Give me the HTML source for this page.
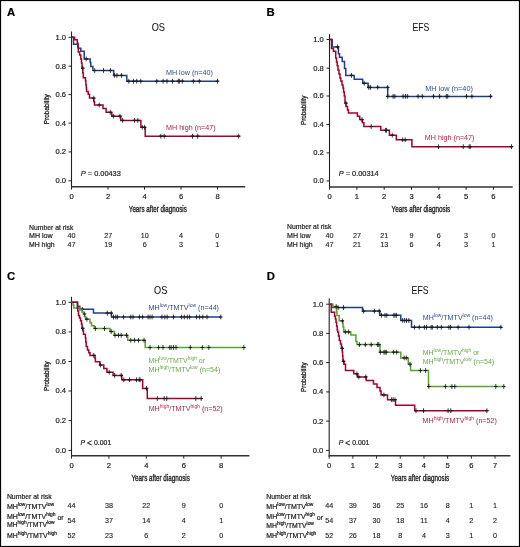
<!DOCTYPE html>
<html><head><meta charset="utf-8"><style>
html,body{margin:0;padding:0;background:#fff;}
svg{display:block;font-family:"Liberation Sans", sans-serif;will-change:transform;}
</style></head><body>
<svg width="520" height="547" viewBox="0 0 520 547">
<rect width="520" height="547" fill="#fff"/>
<text x="6.9" y="16.3" font-size="11.3" text-anchor="start" fill="#000" font-weight="bold" font-style="normal" stroke="#000" stroke-width="0.2">A</text>
<text x="151.7" y="31.0" font-size="10.2" text-anchor="start" fill="#111" font-weight="normal" font-style="normal" textLength="13.3" lengthAdjust="spacingAndGlyphs" stroke="#111" stroke-width="0.05">OS</text>
<line x1="71.5" y1="31.5" x2="71.5" y2="187.4" stroke="#222" stroke-width="1.1"/>
<line x1="71.0" y1="186.8" x2="245.2" y2="186.8" stroke="#333" stroke-width="1.4"/>
<line x1="68.5" y1="37.3" x2="71.5" y2="37.3" stroke="#222" stroke-width="1"/>
<text x="66" y="39.7" font-size="7.6" text-anchor="end" fill="#222" font-weight="normal" font-style="normal" stroke="#222" stroke-width="0.2">1.0</text>
<line x1="68.5" y1="66.2" x2="71.5" y2="66.2" stroke="#222" stroke-width="1"/>
<text x="66" y="68.6" font-size="7.6" text-anchor="end" fill="#222" font-weight="normal" font-style="normal" stroke="#222" stroke-width="0.2">0.8</text>
<line x1="68.5" y1="94.6" x2="71.5" y2="94.6" stroke="#222" stroke-width="1"/>
<text x="66" y="97.0" font-size="7.6" text-anchor="end" fill="#222" font-weight="normal" font-style="normal" stroke="#222" stroke-width="0.2">0.6</text>
<line x1="68.5" y1="123.1" x2="71.5" y2="123.1" stroke="#222" stroke-width="1"/>
<text x="66" y="125.5" font-size="7.6" text-anchor="end" fill="#222" font-weight="normal" font-style="normal" stroke="#222" stroke-width="0.2">0.4</text>
<line x1="68.5" y1="151.9" x2="71.5" y2="151.9" stroke="#222" stroke-width="1"/>
<text x="66" y="154.3" font-size="7.6" text-anchor="end" fill="#222" font-weight="normal" font-style="normal" stroke="#222" stroke-width="0.2">0.2</text>
<line x1="68.5" y1="180.8" x2="71.5" y2="180.8" stroke="#222" stroke-width="1"/>
<text x="66" y="183.2" font-size="7.6" text-anchor="end" fill="#222" font-weight="normal" font-style="normal" stroke="#222" stroke-width="0.2">0.0</text>
<line x1="71.5" y1="186.8" x2="71.5" y2="189.60000000000002" stroke="#222" stroke-width="1"/>
<text x="71.5" y="199.2" font-size="7.6" text-anchor="middle" fill="#222" font-weight="normal" font-style="normal" stroke="#222" stroke-width="0.2">0</text>
<line x1="108" y1="186.8" x2="108" y2="189.60000000000002" stroke="#222" stroke-width="1"/>
<text x="108" y="199.2" font-size="7.6" text-anchor="middle" fill="#222" font-weight="normal" font-style="normal" stroke="#222" stroke-width="0.2">2</text>
<line x1="144.5" y1="186.8" x2="144.5" y2="189.60000000000002" stroke="#222" stroke-width="1"/>
<text x="144.5" y="199.2" font-size="7.6" text-anchor="middle" fill="#222" font-weight="normal" font-style="normal" stroke="#222" stroke-width="0.2">4</text>
<line x1="181" y1="186.8" x2="181" y2="189.60000000000002" stroke="#222" stroke-width="1"/>
<text x="181" y="199.2" font-size="7.6" text-anchor="middle" fill="#222" font-weight="normal" font-style="normal" stroke="#222" stroke-width="0.2">6</text>
<line x1="217.5" y1="186.8" x2="217.5" y2="189.60000000000002" stroke="#222" stroke-width="1"/>
<text x="217.5" y="199.2" font-size="7.6" text-anchor="middle" fill="#222" font-weight="normal" font-style="normal" stroke="#222" stroke-width="0.2">8</text>
<text transform="translate(49.0,109.2) rotate(-90)" x="0" y="0" font-size="7.9" text-anchor="middle" fill="#222" stroke="#222" stroke-width="0.3" textLength="30" lengthAdjust="spacingAndGlyphs">Probability</text>
<text x="128.8" y="212.2" font-size="9" text-anchor="start" fill="#222" font-weight="normal" font-style="normal" textLength="58" lengthAdjust="spacingAndGlyphs" stroke="#222" stroke-width="0.35">Years after diagnosis</text>
<path d="M71.5,37.3H73.5V44.3H78.3V48.2H80.8V51.2H84.2V58.9H90.2V62.5H90.8V66.5H92.9V70.5H113.7V75.4H126.8V81.2H217.8" fill="none" stroke="#1f3f85" stroke-width="1.5" stroke-linejoin="miter" stroke-linecap="butt"/>
<path d="M84.40,58.9h3.6" fill="none" stroke="#1a1a1a" stroke-width="1.2"/>
<path d="M86.2,56.50v4.8" fill="none" stroke="#1a1a1a" stroke-width="0.85"/>
<path d="M92.90,70.5h3.6M101.70,70.5h3.6M108.60,70.5h3.6" fill="none" stroke="#1a1a1a" stroke-width="1.2"/>
<path d="M94.7,68.10v4.8M103.5,68.10v4.8M110.4,68.10v4.8" fill="none" stroke="#1a1a1a" stroke-width="0.85"/>
<path d="M112.80,75.4h3.6M115.10,75.4h3.6M119.70,75.4h3.6" fill="none" stroke="#1a1a1a" stroke-width="1.2"/>
<path d="M114.6,73.00v4.8M116.9,73.00v4.8M121.5,73.00v4.8" fill="none" stroke="#1a1a1a" stroke-width="0.85"/>
<path d="M127.00,81.2h3.6M131.70,81.2h3.6M134.90,81.2h3.6M139.00,81.2h3.6M155.00,81.2h3.6M161.30,81.2h3.6M165.20,81.2h3.6M170.70,81.2h3.6M176.50,81.2h3.6M177.60,81.2h3.6M180.50,81.2h3.6M191.50,81.2h3.6M197.50,81.2h3.6M215.70,81.2h3.6" fill="none" stroke="#1a1a1a" stroke-width="1.2"/>
<path d="M128.8,78.80v4.8M133.5,78.80v4.8M136.7,78.80v4.8M140.8,78.80v4.8M156.8,78.80v4.8M163.1,78.80v4.8M167,78.80v4.8M172.5,78.80v4.8M178.3,78.80v4.8M179.4,78.80v4.8M182.3,78.80v4.8M193.3,78.80v4.8M199.3,78.80v4.8M217.5,78.80v4.8" fill="none" stroke="#1a1a1a" stroke-width="0.85"/>
<path d="M71.5,37.3H74.6V39.7H77.3V43H77.8V47H78.3V52H79.6V55.1H80.8V58.9H81.5V63H82V68.1H82.8V73H83.3V77.7H85.5V81H85.9V85H86.3V88H86.6V91.5H88.2V94.2H89.5V98.1H93.8V101.5H94.5V105H103V108.5H106.1V112.3H111.8V116.2H120.8V120.4H140.9V127.3H145.2V136.2H239.6" fill="none" stroke="#a8002c" stroke-width="1.5" stroke-linejoin="miter" stroke-linecap="butt"/>
<path d="M81.00,68.1h3.6M92.00,98.1h3.6M97.40,105h3.6M108.50,112.3h3.6M111.60,116.2h3.6M118.10,116.2h3.6" fill="none" stroke="#1a1a1a" stroke-width="1.2"/>
<path d="M82.8,65.70v4.8M93.8,95.70v4.8M99.2,102.60v4.8M110.3,109.90v4.8M113.4,113.80v4.8M119.9,113.80v4.8" fill="none" stroke="#1a1a1a" stroke-width="0.85"/>
<path d="M120.80,120.4h3.6M132.70,120.4h3.6M136.00,120.4h3.6" fill="none" stroke="#1a1a1a" stroke-width="1.2"/>
<path d="M122.6,118.00v4.8M134.5,118.00v4.8M137.8,118.00v4.8" fill="none" stroke="#1a1a1a" stroke-width="0.85"/>
<path d="M140.50,127.3h3.6M142.80,127.3h3.6" fill="none" stroke="#1a1a1a" stroke-width="1.2"/>
<path d="M142.3,124.90v4.8M144.6,124.90v4.8" fill="none" stroke="#1a1a1a" stroke-width="0.85"/>
<path d="M159.00,136.2h3.6M162.40,136.2h3.6M190.70,136.2h3.6M195.90,136.2h3.6M236.90,136.2h3.6" fill="none" stroke="#1a1a1a" stroke-width="1.2"/>
<path d="M160.8,133.80v4.8M164.2,133.80v4.8M192.5,133.80v4.8M197.7,133.80v4.8M238.7,133.80v4.8" fill="none" stroke="#1a1a1a" stroke-width="0.85"/>
<text x="165.9" y="74.8" font-size="7.6" text-anchor="start" fill="#2c4c8c" font-weight="normal" font-style="normal" textLength="47" lengthAdjust="spacingAndGlyphs">MH low (n=40)</text>
<text x="166" y="130" font-size="7.6" text-anchor="start" fill="#b01c44" font-weight="normal" font-style="normal" textLength="49.6" lengthAdjust="spacingAndGlyphs">MH high (n=47)</text>
<text x="80.8" y="176.3" font-size="7.4" fill="#222" stroke="#222" stroke-width="0.2" textLength="40" lengthAdjust="spacingAndGlyphs"><tspan font-style="italic">P</tspan> = 0.00433</text>
<text x="29" y="229.5" font-size="7.2" text-anchor="start" fill="#222" font-weight="normal" font-style="normal" textLength="44.4" lengthAdjust="spacingAndGlyphs" stroke="#222" stroke-width="0.2">Number at risk</text>
<text x="29" y="238.4" font-size="7.2" text-anchor="start" fill="#222" font-weight="normal" font-style="normal" textLength="23.7" lengthAdjust="spacingAndGlyphs" stroke="#222" stroke-width="0.2">MH low</text>
<text x="29" y="246.6" font-size="7.2" text-anchor="start" fill="#222" font-weight="normal" font-style="normal" textLength="25.6" lengthAdjust="spacingAndGlyphs" stroke="#222" stroke-width="0.2">MH high</text>
<text x="71.5" y="238.3" font-size="7.2" text-anchor="middle" fill="#222" font-weight="normal" font-style="normal" stroke="#222" stroke-width="0.12">40</text>
<text x="71.5" y="246.9" font-size="7.2" text-anchor="middle" fill="#222" font-weight="normal" font-style="normal" stroke="#222" stroke-width="0.12">47</text>
<text x="108.3" y="238.3" font-size="7.2" text-anchor="middle" fill="#222" font-weight="normal" font-style="normal" stroke="#222" stroke-width="0.12">27</text>
<text x="108.3" y="246.9" font-size="7.2" text-anchor="middle" fill="#222" font-weight="normal" font-style="normal" stroke="#222" stroke-width="0.12">19</text>
<text x="144.7" y="238.3" font-size="7.2" text-anchor="middle" fill="#222" font-weight="normal" font-style="normal" stroke="#222" stroke-width="0.12">10</text>
<text x="144.7" y="246.9" font-size="7.2" text-anchor="middle" fill="#222" font-weight="normal" font-style="normal" stroke="#222" stroke-width="0.12">6</text>
<text x="181.1" y="238.3" font-size="7.2" text-anchor="middle" fill="#222" font-weight="normal" font-style="normal" stroke="#222" stroke-width="0.12">4</text>
<text x="181.1" y="246.9" font-size="7.2" text-anchor="middle" fill="#222" font-weight="normal" font-style="normal" stroke="#222" stroke-width="0.12">3</text>
<text x="217.3" y="238.3" font-size="7.2" text-anchor="middle" fill="#222" font-weight="normal" font-style="normal" stroke="#222" stroke-width="0.12">0</text>
<text x="217.3" y="246.9" font-size="7.2" text-anchor="middle" fill="#222" font-weight="normal" font-style="normal" stroke="#222" stroke-width="0.12">1</text>
<text x="266.5" y="16.2" font-size="11.3" text-anchor="start" fill="#000" font-weight="bold" font-style="normal" stroke="#000" stroke-width="0.2">B</text>
<text x="412.6" y="30.9" font-size="10.2" text-anchor="start" fill="#111" font-weight="normal" font-style="normal" textLength="16.8" lengthAdjust="spacingAndGlyphs" stroke="#111" stroke-width="0.05">EFS</text>
<line x1="329.5" y1="34.1" x2="329.5" y2="187.6" stroke="#222" stroke-width="1.1"/>
<line x1="329.0" y1="187.0" x2="512.7" y2="187.0" stroke="#333" stroke-width="1.4"/>
<line x1="326.5" y1="39.5" x2="329.5" y2="39.5" stroke="#222" stroke-width="1"/>
<text x="323.8" y="41.9" font-size="7.6" text-anchor="end" fill="#222" font-weight="normal" font-style="normal" stroke="#222" stroke-width="0.2">1.0</text>
<line x1="326.5" y1="68.2" x2="329.5" y2="68.2" stroke="#222" stroke-width="1"/>
<text x="323.8" y="70.6" font-size="7.6" text-anchor="end" fill="#222" font-weight="normal" font-style="normal" stroke="#222" stroke-width="0.2">0.8</text>
<line x1="326.5" y1="96.0" x2="329.5" y2="96.0" stroke="#222" stroke-width="1"/>
<text x="323.8" y="98.4" font-size="7.6" text-anchor="end" fill="#222" font-weight="normal" font-style="normal" stroke="#222" stroke-width="0.2">0.6</text>
<line x1="326.5" y1="124.4" x2="329.5" y2="124.4" stroke="#222" stroke-width="1"/>
<text x="323.8" y="126.8" font-size="7.6" text-anchor="end" fill="#222" font-weight="normal" font-style="normal" stroke="#222" stroke-width="0.2">0.4</text>
<line x1="326.5" y1="152.9" x2="329.5" y2="152.9" stroke="#222" stroke-width="1"/>
<text x="323.8" y="155.3" font-size="7.6" text-anchor="end" fill="#222" font-weight="normal" font-style="normal" stroke="#222" stroke-width="0.2">0.2</text>
<line x1="326.5" y1="180.9" x2="329.5" y2="180.9" stroke="#222" stroke-width="1"/>
<text x="323.8" y="183.3" font-size="7.6" text-anchor="end" fill="#222" font-weight="normal" font-style="normal" stroke="#222" stroke-width="0.2">0.0</text>
<line x1="329.6" y1="187.0" x2="329.6" y2="189.8" stroke="#222" stroke-width="1"/>
<text x="329.6" y="199.4" font-size="7.6" text-anchor="middle" fill="#222" font-weight="normal" font-style="normal" stroke="#222" stroke-width="0.2">0</text>
<line x1="356.90000000000003" y1="187.0" x2="356.90000000000003" y2="189.8" stroke="#222" stroke-width="1"/>
<text x="356.90000000000003" y="199.4" font-size="7.6" text-anchor="middle" fill="#222" font-weight="normal" font-style="normal" stroke="#222" stroke-width="0.2">1</text>
<line x1="384.20000000000005" y1="187.0" x2="384.20000000000005" y2="189.8" stroke="#222" stroke-width="1"/>
<text x="384.20000000000005" y="199.4" font-size="7.6" text-anchor="middle" fill="#222" font-weight="normal" font-style="normal" stroke="#222" stroke-width="0.2">2</text>
<line x1="411.5" y1="187.0" x2="411.5" y2="189.8" stroke="#222" stroke-width="1"/>
<text x="411.5" y="199.4" font-size="7.6" text-anchor="middle" fill="#222" font-weight="normal" font-style="normal" stroke="#222" stroke-width="0.2">3</text>
<line x1="438.8" y1="187.0" x2="438.8" y2="189.8" stroke="#222" stroke-width="1"/>
<text x="438.8" y="199.4" font-size="7.6" text-anchor="middle" fill="#222" font-weight="normal" font-style="normal" stroke="#222" stroke-width="0.2">4</text>
<line x1="466.1" y1="187.0" x2="466.1" y2="189.8" stroke="#222" stroke-width="1"/>
<text x="466.1" y="199.4" font-size="7.6" text-anchor="middle" fill="#222" font-weight="normal" font-style="normal" stroke="#222" stroke-width="0.2">5</text>
<line x1="493.40000000000003" y1="187.0" x2="493.40000000000003" y2="189.8" stroke="#222" stroke-width="1"/>
<text x="493.40000000000003" y="199.4" font-size="7.6" text-anchor="middle" fill="#222" font-weight="normal" font-style="normal" stroke="#222" stroke-width="0.2">6</text>
<text transform="translate(306.4,110.3) rotate(-90)" x="0" y="0" font-size="7.9" text-anchor="middle" fill="#222" stroke="#222" stroke-width="0.3" textLength="29.6" lengthAdjust="spacingAndGlyphs">Probability</text>
<text x="391.5" y="211.7" font-size="9" text-anchor="start" fill="#222" font-weight="normal" font-style="normal" textLength="58.7" lengthAdjust="spacingAndGlyphs" stroke="#222" stroke-width="0.35">Years after diagnosis</text>
<path d="M329.5,39.5H332.2V46.9H338.4V53.8H339.5V57.3H342.2V61.5H344.5V68.6H345.8V75.4H354.2V79.2H362.7V83.3H368.1V87.4H387.7V96.4H491.5" fill="none" stroke="#1f3f85" stroke-width="1.5" stroke-linejoin="miter" stroke-linecap="butt"/>
<path d="M335.80,46.9h3.6M349.70,75.4h3.6M362.40,83.3h3.6" fill="none" stroke="#1a1a1a" stroke-width="1.2"/>
<path d="M337.6,44.50v4.8M351.5,73.00v4.8M364.2,80.90v4.8" fill="none" stroke="#1a1a1a" stroke-width="0.85"/>
<path d="M367.00,87.4h3.6M368.60,87.4h3.6M375.90,87.4h3.6M385.90,87.4h3.6" fill="none" stroke="#1a1a1a" stroke-width="1.2"/>
<path d="M368.8,85.00v4.8M370.4,85.00v4.8M377.7,85.00v4.8M387.7,85.00v4.8" fill="none" stroke="#1a1a1a" stroke-width="0.85"/>
<path d="M385.90,96.4h3.6M391.30,96.4h3.6M393.00,96.4h3.6M401.30,96.4h3.6M403.60,96.4h3.6M405.50,96.4h3.6M416.30,96.4h3.6M420.50,96.4h3.6M431.70,96.4h3.6M437.80,96.4h3.6M444.50,96.4h3.6M445.90,96.4h3.6M464.70,96.4h3.6M470.10,96.4h3.6M488.80,96.4h3.6" fill="none" stroke="#1a1a1a" stroke-width="1.2"/>
<path d="M387.7,94.00v4.8M393.1,94.00v4.8M394.8,94.00v4.8M403.1,94.00v4.8M405.4,94.00v4.8M407.3,94.00v4.8M418.1,94.00v4.8M422.3,94.00v4.8M433.5,94.00v4.8M439.6,94.00v4.8M446.3,94.00v4.8M447.7,94.00v4.8M466.5,94.00v4.8M471.9,94.00v4.8M490.6,94.00v4.8" fill="none" stroke="#1a1a1a" stroke-width="0.85"/>
<path d="M329.5,39.5H331.5V48.5H333.4V51.2H335.7V58.1H336.5V62H337.2V65.8H338V70H339V74H340V78H340.8V81H342V85H343V88H343.6V92H344.3V96H345V103.1H346V106.5H347.5V110H348.5V113.1H357.4V116.2H359.7V119.6H362.4V122.7H363.9V126.5H380.8V130.3H389.4V135.2H396.3V139.8H411.9V146.7H512.5" fill="none" stroke="#a8002c" stroke-width="1.5" stroke-linejoin="miter" stroke-linecap="butt"/>
<path d="M344.20,103.1h3.6M360.20,119.6h3.6M369.40,126.5h3.6M383.80,130.3h3.6M384.70,130.3h3.6M390.50,135.2h3.6M400.90,139.8h3.6M403.40,139.8h3.6" fill="none" stroke="#1a1a1a" stroke-width="1.2"/>
<path d="M346,100.70v4.8M362,117.20v4.8M371.2,124.10v4.8M385.6,127.90v4.8M386.5,127.90v4.8M392.3,132.80v4.8M402.7,137.40v4.8M405.2,137.40v4.8" fill="none" stroke="#1a1a1a" stroke-width="0.85"/>
<path d="M436.70,146.7h3.6M461.50,146.7h3.6M467.40,146.7h3.6M468.50,146.7h3.6M509.70,146.7h3.6" fill="none" stroke="#1a1a1a" stroke-width="1.2"/>
<path d="M438.5,144.30v4.8M463.3,144.30v4.8M469.2,144.30v4.8M470.3,144.30v4.8M511.5,144.30v4.8" fill="none" stroke="#1a1a1a" stroke-width="0.85"/>
<text x="425.2" y="91" font-size="7.6" text-anchor="start" fill="#2c4c8c" font-weight="normal" font-style="normal" textLength="47.7" lengthAdjust="spacingAndGlyphs">MH low (n=40)</text>
<text x="424.8" y="140.2" font-size="7.6" text-anchor="start" fill="#b01c44" font-weight="normal" font-style="normal" textLength="49.7" lengthAdjust="spacingAndGlyphs">MH high (n=47)</text>
<text x="338.7" y="176.4" font-size="7.4" fill="#222" stroke="#222" stroke-width="0.2" textLength="40" lengthAdjust="spacingAndGlyphs"><tspan font-style="italic">P</tspan> = 0.00314</text>
<text x="287" y="229.4" font-size="7.2" text-anchor="start" fill="#222" font-weight="normal" font-style="normal" textLength="44.3" lengthAdjust="spacingAndGlyphs" stroke="#222" stroke-width="0.2">Number at risk</text>
<text x="287" y="238.3" font-size="7.2" text-anchor="start" fill="#222" font-weight="normal" font-style="normal" textLength="23.7" lengthAdjust="spacingAndGlyphs" stroke="#222" stroke-width="0.2">MH low</text>
<text x="287" y="246.6" font-size="7.2" text-anchor="start" fill="#222" font-weight="normal" font-style="normal" textLength="25.6" lengthAdjust="spacingAndGlyphs" stroke="#222" stroke-width="0.2">MH high</text>
<text x="329.6" y="238.3" font-size="7.2" text-anchor="middle" fill="#222" font-weight="normal" font-style="normal" stroke="#222" stroke-width="0.12">40</text>
<text x="329.6" y="246.9" font-size="7.2" text-anchor="middle" fill="#222" font-weight="normal" font-style="normal" stroke="#222" stroke-width="0.12">47</text>
<text x="356.90000000000003" y="238.3" font-size="7.2" text-anchor="middle" fill="#222" font-weight="normal" font-style="normal" stroke="#222" stroke-width="0.12">27</text>
<text x="356.90000000000003" y="246.9" font-size="7.2" text-anchor="middle" fill="#222" font-weight="normal" font-style="normal" stroke="#222" stroke-width="0.12">21</text>
<text x="384.20000000000005" y="238.3" font-size="7.2" text-anchor="middle" fill="#222" font-weight="normal" font-style="normal" stroke="#222" stroke-width="0.12">21</text>
<text x="384.20000000000005" y="246.9" font-size="7.2" text-anchor="middle" fill="#222" font-weight="normal" font-style="normal" stroke="#222" stroke-width="0.12">13</text>
<text x="411.5" y="238.3" font-size="7.2" text-anchor="middle" fill="#222" font-weight="normal" font-style="normal" stroke="#222" stroke-width="0.12">9</text>
<text x="411.5" y="246.9" font-size="7.2" text-anchor="middle" fill="#222" font-weight="normal" font-style="normal" stroke="#222" stroke-width="0.12">6</text>
<text x="438.8" y="238.3" font-size="7.2" text-anchor="middle" fill="#222" font-weight="normal" font-style="normal" stroke="#222" stroke-width="0.12">6</text>
<text x="438.8" y="246.9" font-size="7.2" text-anchor="middle" fill="#222" font-weight="normal" font-style="normal" stroke="#222" stroke-width="0.12">4</text>
<text x="466.1" y="238.3" font-size="7.2" text-anchor="middle" fill="#222" font-weight="normal" font-style="normal" stroke="#222" stroke-width="0.12">3</text>
<text x="466.1" y="246.9" font-size="7.2" text-anchor="middle" fill="#222" font-weight="normal" font-style="normal" stroke="#222" stroke-width="0.12">3</text>
<text x="493.40000000000003" y="238.3" font-size="7.2" text-anchor="middle" fill="#222" font-weight="normal" font-style="normal" stroke="#222" stroke-width="0.12">0</text>
<text x="493.40000000000003" y="246.9" font-size="7.2" text-anchor="middle" fill="#222" font-weight="normal" font-style="normal" stroke="#222" stroke-width="0.12">1</text>
<text x="6.9" y="279.5" font-size="11.3" text-anchor="start" fill="#000" font-weight="bold" font-style="normal" stroke="#000" stroke-width="0.2">C</text>
<text x="154" y="293.5" font-size="10.2" text-anchor="start" fill="#111" font-weight="normal" font-style="normal" textLength="13.3" lengthAdjust="spacingAndGlyphs" stroke="#111" stroke-width="0.05">OS</text>
<line x1="71.5" y1="296.8" x2="71.5" y2="456.40000000000003" stroke="#222" stroke-width="1.1"/>
<line x1="71.0" y1="455.8" x2="249.4" y2="455.8" stroke="#333" stroke-width="1.4"/>
<line x1="68.5" y1="302.3" x2="71.5" y2="302.3" stroke="#222" stroke-width="1"/>
<text x="66" y="304.7" font-size="7.6" text-anchor="end" fill="#222" font-weight="normal" font-style="normal" stroke="#222" stroke-width="0.2">1.0</text>
<line x1="68.5" y1="331.9" x2="71.5" y2="331.9" stroke="#222" stroke-width="1"/>
<text x="66" y="334.3" font-size="7.6" text-anchor="end" fill="#222" font-weight="normal" font-style="normal" stroke="#222" stroke-width="0.2">0.8</text>
<line x1="68.5" y1="361.5" x2="71.5" y2="361.5" stroke="#222" stroke-width="1"/>
<text x="66" y="363.9" font-size="7.6" text-anchor="end" fill="#222" font-weight="normal" font-style="normal" stroke="#222" stroke-width="0.2">0.6</text>
<line x1="68.5" y1="391.0" x2="71.5" y2="391.0" stroke="#222" stroke-width="1"/>
<text x="66" y="393.4" font-size="7.6" text-anchor="end" fill="#222" font-weight="normal" font-style="normal" stroke="#222" stroke-width="0.2">0.4</text>
<line x1="68.5" y1="420.6" x2="71.5" y2="420.6" stroke="#222" stroke-width="1"/>
<text x="66" y="423.0" font-size="7.6" text-anchor="end" fill="#222" font-weight="normal" font-style="normal" stroke="#222" stroke-width="0.2">0.2</text>
<line x1="68.5" y1="450.4" x2="71.5" y2="450.4" stroke="#222" stroke-width="1"/>
<text x="66" y="452.8" font-size="7.6" text-anchor="end" fill="#222" font-weight="normal" font-style="normal" stroke="#222" stroke-width="0.2">0.0</text>
<line x1="71.5" y1="455.8" x2="71.5" y2="458.6" stroke="#222" stroke-width="1"/>
<text x="71.5" y="468.2" font-size="7.6" text-anchor="middle" fill="#222" font-weight="normal" font-style="normal" stroke="#222" stroke-width="0.2">0</text>
<line x1="108.92" y1="455.8" x2="108.92" y2="458.6" stroke="#222" stroke-width="1"/>
<text x="108.92" y="468.2" font-size="7.6" text-anchor="middle" fill="#222" font-weight="normal" font-style="normal" stroke="#222" stroke-width="0.2">2</text>
<line x1="146.34" y1="455.8" x2="146.34" y2="458.6" stroke="#222" stroke-width="1"/>
<text x="146.34" y="468.2" font-size="7.6" text-anchor="middle" fill="#222" font-weight="normal" font-style="normal" stroke="#222" stroke-width="0.2">4</text>
<line x1="183.76" y1="455.8" x2="183.76" y2="458.6" stroke="#222" stroke-width="1"/>
<text x="183.76" y="468.2" font-size="7.6" text-anchor="middle" fill="#222" font-weight="normal" font-style="normal" stroke="#222" stroke-width="0.2">6</text>
<line x1="221.18" y1="455.8" x2="221.18" y2="458.6" stroke="#222" stroke-width="1"/>
<text x="221.18" y="468.2" font-size="7.6" text-anchor="middle" fill="#222" font-weight="normal" font-style="normal" stroke="#222" stroke-width="0.2">8</text>
<text transform="translate(49.0,376.1) rotate(-90)" x="0" y="0" font-size="7.9" text-anchor="middle" fill="#222" stroke="#222" stroke-width="0.3" textLength="29.7" lengthAdjust="spacingAndGlyphs">Probability</text>
<text x="131.5" y="480.6" font-size="9" text-anchor="start" fill="#222" font-weight="normal" font-style="normal" textLength="58.3" lengthAdjust="spacingAndGlyphs" stroke="#222" stroke-width="0.35">Years after diagnosis</text>
<path d="M71.5,302.3H77.7V306.2H79.8V309.2H93.5V313.1H111.5V317H221.3" fill="none" stroke="#1f3f85" stroke-width="1.5" stroke-linejoin="miter" stroke-linecap="butt"/>
<path d="M80.50,309.2h3.6" fill="none" stroke="#1a1a1a" stroke-width="1.2"/>
<path d="M82.3,306.80v4.8" fill="none" stroke="#1a1a1a" stroke-width="0.85"/>
<path d="M105.50,313.1h3.6M109.40,313.1h3.6" fill="none" stroke="#1a1a1a" stroke-width="1.2"/>
<path d="M107.3,310.70v4.8M111.2,310.70v4.8" fill="none" stroke="#1a1a1a" stroke-width="0.85"/>
<path d="M111.70,317h3.6M114.00,317h3.6M115.60,317h3.6M121.80,317h3.6M129.00,317h3.6M131.20,317h3.6M137.60,317h3.6M140.80,317h3.6M146.30,317h3.6M148.20,317h3.6M150.30,317h3.6M160.10,317h3.6M163.10,317h3.6M165.40,317h3.6M171.70,317h3.6M179.80,317h3.6M182.50,317h3.6M185.50,317h3.6M187.80,317h3.6M194.80,317h3.6M197.80,317h3.6M201.00,317h3.6M205.20,317h3.6M219.00,317h3.6" fill="none" stroke="#1a1a1a" stroke-width="1.2"/>
<path d="M113.5,314.60v4.8M115.8,314.60v4.8M117.4,314.60v4.8M123.6,314.60v4.8M130.8,314.60v4.8M133.0,314.60v4.8M139.4,314.60v4.8M142.6,314.60v4.8M148.1,314.60v4.8M150,314.60v4.8M152.1,314.60v4.8M161.9,314.60v4.8M164.9,314.60v4.8M167.2,314.60v4.8M173.5,314.60v4.8M181.6,314.60v4.8M184.3,314.60v4.8M187.3,314.60v4.8M189.6,314.60v4.8M196.6,314.60v4.8M199.6,314.60v4.8M202.8,314.60v4.8M207,314.60v4.8M220.8,314.60v4.8" fill="none" stroke="#1a1a1a" stroke-width="0.85"/>
<path d="M71.5,302.3H73.1V305H73.8V308.1H80V310H82V312H83.3V314H84.5V316.5H85.5V319.2H90V322.7H91.5V325.8H94.2V328.5H110V331.5H114.4V335.3H127.7V340.3H145.2V347.5H244.4" fill="none" stroke="#5aa232" stroke-width="1.5" stroke-linejoin="miter" stroke-linecap="butt"/>
<path d="M82.80,314h3.6M85.10,319.2h3.6" fill="none" stroke="#1a1a1a" stroke-width="1.2"/>
<path d="M84.6,311.60v4.8M86.9,316.80v4.8" fill="none" stroke="#1a1a1a" stroke-width="0.85"/>
<path d="M93.60,328.5h3.6M102.70,328.5h3.6" fill="none" stroke="#1a1a1a" stroke-width="1.2"/>
<path d="M95.4,326.10v4.8M104.5,326.10v4.8" fill="none" stroke="#1a1a1a" stroke-width="0.85"/>
<path d="M109.40,331.5h3.6" fill="none" stroke="#1a1a1a" stroke-width="1.2"/>
<path d="M111.2,329.10v4.8" fill="none" stroke="#1a1a1a" stroke-width="0.85"/>
<path d="M113.20,335.3h3.6M116.70,335.3h3.6M119.40,335.3h3.6M124.70,335.3h3.6" fill="none" stroke="#1a1a1a" stroke-width="1.2"/>
<path d="M115,332.90v4.8M118.5,332.90v4.8M121.2,332.90v4.8M126.5,332.90v4.8" fill="none" stroke="#1a1a1a" stroke-width="0.85"/>
<path d="M129.00,340.3h3.6M132.80,340.3h3.6M136.70,340.3h3.6M142.20,340.3h3.6" fill="none" stroke="#1a1a1a" stroke-width="1.2"/>
<path d="M130.8,337.90v4.8M134.6,337.90v4.8M138.5,337.90v4.8M144,337.90v4.8" fill="none" stroke="#1a1a1a" stroke-width="0.85"/>
<path d="M148.20,347.5h3.6M156.80,347.5h3.6M161.20,347.5h3.6M167.90,347.5h3.6M169.40,347.5h3.6M171.70,347.5h3.6M174.20,347.5h3.6M188.50,347.5h3.6M200.50,347.5h3.6M207.00,347.5h3.6M242.10,347.5h3.6" fill="none" stroke="#1a1a1a" stroke-width="1.2"/>
<path d="M150,345.10v4.8M158.6,345.10v4.8M163,345.10v4.8M169.7,345.10v4.8M171.2,345.10v4.8M173.5,345.10v4.8M176,345.10v4.8M190.3,345.10v4.8M202.3,345.10v4.8M208.8,345.10v4.8M243.9,345.10v4.8" fill="none" stroke="#1a1a1a" stroke-width="0.85"/>
<path d="M71.5,302.3H77.3V307.7H77.8V311H78.5V315.4H79.5V318H80.5V320.8H81.5V324H82V328.3H82.9V331H83.5V334.2H85.4V338H85.8V342H86.2V346.5H87.5V350H88.8V352.7H90V355.4H95V358.3H95.4V361.7H99.8V365H103.8V368.5H106.9V372.3H113.1V375.4H121.8V379.8H142.7V388.4H147.3V398.5H201.9" fill="none" stroke="#a8002c" stroke-width="1.5" stroke-linejoin="miter" stroke-linecap="butt"/>
<path d="M80.90,328.3h3.6M92.00,355.4h3.6M98.60,365h3.6M107.40,372.3h3.6M112.80,375.4h3.6M119.40,375.4h3.6M122.00,379.8h3.6" fill="none" stroke="#1a1a1a" stroke-width="1.2"/>
<path d="M82.7,325.90v4.8M93.8,353.00v4.8M100.4,362.60v4.8M109.2,369.90v4.8M114.6,373.00v4.8M121.2,373.00v4.8M123.8,377.40v4.8" fill="none" stroke="#1a1a1a" stroke-width="0.85"/>
<path d="M127.70,379.8h3.6M134.70,379.8h3.6M137.40,379.8h3.6M138.30,379.8h3.6" fill="none" stroke="#1a1a1a" stroke-width="1.2"/>
<path d="M129.5,377.40v4.8M136.5,377.40v4.8M139.2,377.40v4.8M140.1,377.40v4.8" fill="none" stroke="#1a1a1a" stroke-width="0.85"/>
<path d="M144.70,388.4h3.6" fill="none" stroke="#1a1a1a" stroke-width="1.2"/>
<path d="M146.5,386.00v4.8" fill="none" stroke="#1a1a1a" stroke-width="0.85"/>
<path d="M155.50,398.5h3.6M162.40,398.5h3.6M165.00,398.5h3.6M194.00,398.5h3.6M199.40,398.5h3.6" fill="none" stroke="#1a1a1a" stroke-width="1.2"/>
<path d="M157.3,396.10v4.8M164.2,396.10v4.8M166.8,396.10v4.8M195.8,396.10v4.8M201.2,396.10v4.8" fill="none" stroke="#1a1a1a" stroke-width="0.85"/>
<text x="148.5" y="309.5" font-size="7.6" fill="#2c4c8c" stroke="#2c4c8c" stroke-width="0.0" textLength="70.5" lengthAdjust="spacingAndGlyphs"><tspan>MH</tspan><tspan font-size="5.32" dy="-3.00">low</tspan><tspan dy="3.00">/TMTV</tspan><tspan font-size="5.32" dy="-3.00">low</tspan><tspan dy="3.00"> (n=44)</tspan></text>
<text x="148.5" y="363.1" font-size="7.6" fill="#66a844" stroke="#66a844" stroke-width="0.0" textLength="56.6" lengthAdjust="spacingAndGlyphs"><tspan>MH</tspan><tspan font-size="5.32" dy="-3.00">low</tspan><tspan dy="3.00">/TMTV</tspan><tspan font-size="5.32" dy="-3.00">high</tspan><tspan dy="3.00"> or</tspan></text>
<text x="148.5" y="371.6" font-size="7.6" fill="#66a844" stroke="#66a844" stroke-width="0.0" textLength="71.9" lengthAdjust="spacingAndGlyphs"><tspan>MH</tspan><tspan font-size="5.32" dy="-3.00">high</tspan><tspan dy="3.00">/TMTV</tspan><tspan font-size="5.32" dy="-3.00">low</tspan><tspan dy="3.00"> (n=54)</tspan></text>
<text x="148.7" y="410.6" font-size="7.6" fill="#b01c44" stroke="#b01c44" stroke-width="0.0" textLength="74" lengthAdjust="spacingAndGlyphs"><tspan>MH</tspan><tspan font-size="5.32" dy="-3.00">high</tspan><tspan dy="3.00">/TMTV</tspan><tspan font-size="5.32" dy="-3.00">high</tspan><tspan dy="3.00"> (n=52)</tspan></text>
<text x="80.6" y="445.4" font-size="7.4" fill="#222" stroke="#222" stroke-width="0.2" textLength="30.7" lengthAdjust="spacingAndGlyphs"><tspan font-style="italic">P</tspan> <tspan font-size="9.2" dy="0.3">&lt;</tspan><tspan dy="-0.3"> 0.001</tspan></text>
<text x="6.9" y="498.8" font-size="7.2" text-anchor="start" fill="#222" font-weight="normal" font-style="normal" textLength="44.7" lengthAdjust="spacingAndGlyphs" stroke="#222" stroke-width="0.2">Number at risk</text>
<text x="6.9" y="508.9" font-size="6.9" fill="#222" stroke="#222" stroke-width="0.2" textLength="47.1" lengthAdjust="spacingAndGlyphs"><tspan>MH</tspan><tspan font-size="4.83" dy="-3.00">low</tspan><tspan dy="3.00">/TMTV</tspan><tspan font-size="4.83" dy="-3.00">low</tspan></text>
<text x="6.9" y="519.1" font-size="6.9" fill="#222" stroke="#222" stroke-width="0.2" textLength="56.8" lengthAdjust="spacingAndGlyphs"><tspan>MH</tspan><tspan font-size="4.83" dy="-3.00">low</tspan><tspan dy="3.00">/TMTV</tspan><tspan font-size="4.83" dy="-3.00">high</tspan><tspan dy="3.80"> or</tspan></text>
<text x="6.9" y="527.4" font-size="6.9" fill="#222" stroke="#222" stroke-width="0.2" textLength="47.5" lengthAdjust="spacingAndGlyphs"><tspan>MH</tspan><tspan font-size="4.83" dy="-3.00">high</tspan><tspan dy="3.00">/TMTV</tspan><tspan font-size="4.83" dy="-3.00">low</tspan></text>
<text x="6.9" y="538.1" font-size="6.9" fill="#222" stroke="#222" stroke-width="0.2" textLength="50" lengthAdjust="spacingAndGlyphs"><tspan>MH</tspan><tspan font-size="4.83" dy="-3.00">high</tspan><tspan dy="3.00">/TMTV</tspan><tspan font-size="4.83" dy="-3.00">high</tspan></text>
<text x="71.5" y="508.0" font-size="7.2" text-anchor="middle" fill="#222" font-weight="normal" font-style="normal" stroke="#222" stroke-width="0.12">44</text>
<text x="71.5" y="523.2" font-size="7.2" text-anchor="middle" fill="#222" font-weight="normal" font-style="normal" stroke="#222" stroke-width="0.12">54</text>
<text x="71.5" y="538.2" font-size="7.2" text-anchor="middle" fill="#222" font-weight="normal" font-style="normal" stroke="#222" stroke-width="0.12">52</text>
<text x="108.92" y="508.0" font-size="7.2" text-anchor="middle" fill="#222" font-weight="normal" font-style="normal" stroke="#222" stroke-width="0.12">38</text>
<text x="108.92" y="523.2" font-size="7.2" text-anchor="middle" fill="#222" font-weight="normal" font-style="normal" stroke="#222" stroke-width="0.12">37</text>
<text x="108.92" y="538.2" font-size="7.2" text-anchor="middle" fill="#222" font-weight="normal" font-style="normal" stroke="#222" stroke-width="0.12">23</text>
<text x="146.34" y="508.0" font-size="7.2" text-anchor="middle" fill="#222" font-weight="normal" font-style="normal" stroke="#222" stroke-width="0.12">22</text>
<text x="146.34" y="523.2" font-size="7.2" text-anchor="middle" fill="#222" font-weight="normal" font-style="normal" stroke="#222" stroke-width="0.12">14</text>
<text x="146.34" y="538.2" font-size="7.2" text-anchor="middle" fill="#222" font-weight="normal" font-style="normal" stroke="#222" stroke-width="0.12">6</text>
<text x="183.76" y="508.0" font-size="7.2" text-anchor="middle" fill="#222" font-weight="normal" font-style="normal" stroke="#222" stroke-width="0.12">9</text>
<text x="183.76" y="523.2" font-size="7.2" text-anchor="middle" fill="#222" font-weight="normal" font-style="normal" stroke="#222" stroke-width="0.12">4</text>
<text x="183.76" y="538.2" font-size="7.2" text-anchor="middle" fill="#222" font-weight="normal" font-style="normal" stroke="#222" stroke-width="0.12">2</text>
<text x="221.18" y="508.0" font-size="7.2" text-anchor="middle" fill="#222" font-weight="normal" font-style="normal" stroke="#222" stroke-width="0.12">0</text>
<text x="221.18" y="523.2" font-size="7.2" text-anchor="middle" fill="#222" font-weight="normal" font-style="normal" stroke="#222" stroke-width="0.12">1</text>
<text x="221.18" y="538.2" font-size="7.2" text-anchor="middle" fill="#222" font-weight="normal" font-style="normal" stroke="#222" stroke-width="0.12">0</text>
<text x="266.8" y="279.9" font-size="11.3" text-anchor="start" fill="#000" font-weight="bold" font-style="normal" stroke="#000" stroke-width="0.2">D</text>
<text x="411.6" y="293.8" font-size="10.2" text-anchor="start" fill="#111" font-weight="normal" font-style="normal" textLength="16.9" lengthAdjust="spacingAndGlyphs" stroke="#111" stroke-width="0.05">EFS</text>
<line x1="329.2" y1="298.6" x2="329.2" y2="456.40000000000003" stroke="#222" stroke-width="1.1"/>
<line x1="328.7" y1="455.8" x2="510.4" y2="455.8" stroke="#333" stroke-width="1.4"/>
<line x1="326.2" y1="304.2" x2="329.2" y2="304.2" stroke="#222" stroke-width="1"/>
<text x="323.3" y="306.6" font-size="7.6" text-anchor="end" fill="#222" font-weight="normal" font-style="normal" stroke="#222" stroke-width="0.2">1.0</text>
<line x1="326.2" y1="333.4" x2="329.2" y2="333.4" stroke="#222" stroke-width="1"/>
<text x="323.3" y="335.8" font-size="7.6" text-anchor="end" fill="#222" font-weight="normal" font-style="normal" stroke="#222" stroke-width="0.2">0.8</text>
<line x1="326.2" y1="362.6" x2="329.2" y2="362.6" stroke="#222" stroke-width="1"/>
<text x="323.3" y="365.0" font-size="7.6" text-anchor="end" fill="#222" font-weight="normal" font-style="normal" stroke="#222" stroke-width="0.2">0.6</text>
<line x1="326.2" y1="391.9" x2="329.2" y2="391.9" stroke="#222" stroke-width="1"/>
<text x="323.3" y="394.3" font-size="7.6" text-anchor="end" fill="#222" font-weight="normal" font-style="normal" stroke="#222" stroke-width="0.2">0.4</text>
<line x1="326.2" y1="421.1" x2="329.2" y2="421.1" stroke="#222" stroke-width="1"/>
<text x="323.3" y="423.5" font-size="7.6" text-anchor="end" fill="#222" font-weight="normal" font-style="normal" stroke="#222" stroke-width="0.2">0.2</text>
<line x1="326.2" y1="450.4" x2="329.2" y2="450.4" stroke="#222" stroke-width="1"/>
<text x="323.3" y="452.8" font-size="7.6" text-anchor="end" fill="#222" font-weight="normal" font-style="normal" stroke="#222" stroke-width="0.2">0.0</text>
<line x1="329.2" y1="455.8" x2="329.2" y2="458.6" stroke="#222" stroke-width="1"/>
<text x="329.2" y="468.2" font-size="7.6" text-anchor="middle" fill="#222" font-weight="normal" font-style="normal" stroke="#222" stroke-width="0.2">0</text>
<line x1="352.89" y1="455.8" x2="352.89" y2="458.6" stroke="#222" stroke-width="1"/>
<text x="352.89" y="468.2" font-size="7.6" text-anchor="middle" fill="#222" font-weight="normal" font-style="normal" stroke="#222" stroke-width="0.2">1</text>
<line x1="376.58" y1="455.8" x2="376.58" y2="458.6" stroke="#222" stroke-width="1"/>
<text x="376.58" y="468.2" font-size="7.6" text-anchor="middle" fill="#222" font-weight="normal" font-style="normal" stroke="#222" stroke-width="0.2">2</text>
<line x1="400.27" y1="455.8" x2="400.27" y2="458.6" stroke="#222" stroke-width="1"/>
<text x="400.27" y="468.2" font-size="7.6" text-anchor="middle" fill="#222" font-weight="normal" font-style="normal" stroke="#222" stroke-width="0.2">3</text>
<line x1="423.96" y1="455.8" x2="423.96" y2="458.6" stroke="#222" stroke-width="1"/>
<text x="423.96" y="468.2" font-size="7.6" text-anchor="middle" fill="#222" font-weight="normal" font-style="normal" stroke="#222" stroke-width="0.2">4</text>
<line x1="447.65" y1="455.8" x2="447.65" y2="458.6" stroke="#222" stroke-width="1"/>
<text x="447.65" y="468.2" font-size="7.6" text-anchor="middle" fill="#222" font-weight="normal" font-style="normal" stroke="#222" stroke-width="0.2">5</text>
<line x1="471.34000000000003" y1="455.8" x2="471.34000000000003" y2="458.6" stroke="#222" stroke-width="1"/>
<text x="471.34000000000003" y="468.2" font-size="7.6" text-anchor="middle" fill="#222" font-weight="normal" font-style="normal" stroke="#222" stroke-width="0.2">6</text>
<line x1="495.03" y1="455.8" x2="495.03" y2="458.6" stroke="#222" stroke-width="1"/>
<text x="495.03" y="468.2" font-size="7.6" text-anchor="middle" fill="#222" font-weight="normal" font-style="normal" stroke="#222" stroke-width="0.2">7</text>
<text transform="translate(306.4,377.1) rotate(-90)" x="0" y="0" font-size="7.9" text-anchor="middle" fill="#222" stroke="#222" stroke-width="0.3" textLength="29.8" lengthAdjust="spacingAndGlyphs">Probability</text>
<text x="390.8" y="480.8" font-size="9" text-anchor="start" fill="#222" font-weight="normal" font-style="normal" textLength="58.4" lengthAdjust="spacingAndGlyphs" stroke="#222" stroke-width="0.35">Years after diagnosis</text>
<path d="M329.2,304.2H332.7V307.6H362.5V311.1H379.8V315.3H400.8V320.4H411.5V327.3H501.5" fill="none" stroke="#1f3f85" stroke-width="1.5" stroke-linejoin="miter" stroke-linecap="butt"/>
<path d="M336.30,307.6h3.6M341.70,307.6h3.6" fill="none" stroke="#1a1a1a" stroke-width="1.2"/>
<path d="M338.1,305.20v4.8M343.5,305.20v4.8" fill="none" stroke="#1a1a1a" stroke-width="0.85"/>
<path d="M361.80,311.1h3.6M372.60,311.1h3.6M377.40,311.1h3.6" fill="none" stroke="#1a1a1a" stroke-width="1.2"/>
<path d="M363.6,308.70v4.8M374.4,308.70v4.8M379.2,308.70v4.8" fill="none" stroke="#1a1a1a" stroke-width="0.85"/>
<path d="M379.70,315.3h3.6M383.20,315.3h3.6M385.00,315.3h3.6M392.00,315.3h3.6M393.20,315.3h3.6M394.60,315.3h3.6" fill="none" stroke="#1a1a1a" stroke-width="1.2"/>
<path d="M381.5,312.90v4.8M385,312.90v4.8M386.8,312.90v4.8M393.8,312.90v4.8M395,312.90v4.8M396.4,312.90v4.8" fill="none" stroke="#1a1a1a" stroke-width="0.85"/>
<path d="M400.90,320.4h3.6M402.80,320.4h3.6M404.70,320.4h3.6M407.00,320.4h3.6" fill="none" stroke="#1a1a1a" stroke-width="1.2"/>
<path d="M402.7,318.00v4.8M404.6,318.00v4.8M406.5,318.00v4.8M408.8,318.00v4.8" fill="none" stroke="#1a1a1a" stroke-width="0.85"/>
<path d="M412.60,327.3h3.6M417.40,327.3h3.6M422.60,327.3h3.6M424.70,327.3h3.6M429.30,327.3h3.6M430.50,327.3h3.6M435.50,327.3h3.6M439.50,327.3h3.6M447.10,327.3h3.6M448.70,327.3h3.6M456.30,327.3h3.6M467.20,327.3h3.6M499.10,327.3h3.6" fill="none" stroke="#1a1a1a" stroke-width="1.2"/>
<path d="M414.4,324.90v4.8M419.2,324.90v4.8M424.4,324.90v4.8M426.5,324.90v4.8M431.1,324.90v4.8M432.3,324.90v4.8M437.3,324.90v4.8M441.3,324.90v4.8M448.9,324.90v4.8M450.5,324.90v4.8M458.1,324.90v4.8M469,324.90v4.8M500.9,324.90v4.8" fill="none" stroke="#1a1a1a" stroke-width="0.85"/>
<path d="M329.2,304.2H332.3V306.5H336.5V312H337V315.4H339.2V320.8H342.8V323.8H343.1V327H343.8V331.9H350.8V335H355.9V341.5H357V344.6H380V352.2H400.8V357.9H408.3V364.2H410.6V370.5H428.5V386.5H504.4" fill="none" stroke="#5aa232" stroke-width="1.5" stroke-linejoin="miter" stroke-linecap="butt"/>
<path d="M334.40,306.5h3.6M340.50,320.8h3.6" fill="none" stroke="#1a1a1a" stroke-width="1.2"/>
<path d="M336.2,304.10v4.8M342.3,318.40v4.8" fill="none" stroke="#1a1a1a" stroke-width="0.85"/>
<path d="M343.60,331.9h3.6M346.80,331.9h3.6" fill="none" stroke="#1a1a1a" stroke-width="1.2"/>
<path d="M345.4,329.50v4.8M348.6,329.50v4.8" fill="none" stroke="#1a1a1a" stroke-width="0.85"/>
<path d="M357.60,344.6h3.6M363.60,344.6h3.6M369.40,344.6h3.6M375.90,344.6h3.6M377.00,344.6h3.6" fill="none" stroke="#1a1a1a" stroke-width="1.2"/>
<path d="M359.4,342.20v4.8M365.4,342.20v4.8M371.2,342.20v4.8M377.7,342.20v4.8M378.8,342.20v4.8" fill="none" stroke="#1a1a1a" stroke-width="0.85"/>
<path d="M378.60,352.2h3.6M382.20,352.2h3.6M383.40,352.2h3.6M384.50,352.2h3.6M391.80,352.2h3.6M394.90,352.2h3.6" fill="none" stroke="#1a1a1a" stroke-width="1.2"/>
<path d="M380.4,349.80v4.8M384,349.80v4.8M385.2,349.80v4.8M386.3,349.80v4.8M393.6,349.80v4.8M396.7,349.80v4.8" fill="none" stroke="#1a1a1a" stroke-width="0.85"/>
<path d="M402.40,357.9h3.6M404.50,357.9h3.6" fill="none" stroke="#1a1a1a" stroke-width="1.2"/>
<path d="M404.2,355.50v4.8M406.3,355.50v4.8" fill="none" stroke="#1a1a1a" stroke-width="0.85"/>
<path d="M408.20,364.2h3.6" fill="none" stroke="#1a1a1a" stroke-width="1.2"/>
<path d="M410,361.80v4.8" fill="none" stroke="#1a1a1a" stroke-width="0.85"/>
<path d="M418.60,370.5h3.6M423.80,370.5h3.6" fill="none" stroke="#1a1a1a" stroke-width="1.2"/>
<path d="M420.4,368.10v4.8M425.6,368.10v4.8" fill="none" stroke="#1a1a1a" stroke-width="0.85"/>
<path d="M427.00,386.5h3.6M443.60,386.5h3.6M450.10,386.5h3.6M453.00,386.5h3.6M494.00,386.5h3.6M502.00,386.5h3.6" fill="none" stroke="#1a1a1a" stroke-width="1.2"/>
<path d="M428.8,384.10v4.8M445.4,384.10v4.8M451.9,384.10v4.8M454.8,384.10v4.8M495.8,384.10v4.8M503.8,384.10v4.8" fill="none" stroke="#1a1a1a" stroke-width="0.85"/>
<path d="M329.2,304.2H331.2V312.3H334.6V316.2H335.4V319H336V322.3H336.6V326H337.2V330H337.7V332H338.5V336H339.3V340.4H340.5V344H341.5V348.3H342.3V352H342.6V356H342.9V361.3H344V364.2H345.5V370.4H353.8V373.8H357.3V376.9H366.2V380.4H373.5V384H377V387.5H380V391.1H381.1V394.9H387.5V399.7H395.5V405.2H414.7V410.7H487.5" fill="none" stroke="#a8002c" stroke-width="1.5" stroke-linejoin="miter" stroke-linecap="butt"/>
<path d="M340.40,348.3h3.6M341.80,361.3h3.6M355.20,373.8h3.6M357.00,376.9h3.6M364.00,376.9h3.6M382.10,394.9h3.6" fill="none" stroke="#1a1a1a" stroke-width="1.2"/>
<path d="M342.2,345.90v4.8M343.6,358.90v4.8M357,371.40v4.8M358.8,374.50v4.8M365.8,374.50v4.8M383.9,392.50v4.8" fill="none" stroke="#1a1a1a" stroke-width="0.85"/>
<path d="M389.80,399.7h3.6M391.30,399.7h3.6M393.20,399.7h3.6" fill="none" stroke="#1a1a1a" stroke-width="1.2"/>
<path d="M391.6,397.30v4.8M393.1,397.30v4.8M395,397.30v4.8" fill="none" stroke="#1a1a1a" stroke-width="0.85"/>
<path d="M414.20,410.7h3.6M421.70,410.7h3.6M446.30,410.7h3.6M449.00,410.7h3.6M485.10,410.7h3.6" fill="none" stroke="#1a1a1a" stroke-width="1.2"/>
<path d="M416,408.30v4.8M423.5,408.30v4.8M448.1,408.30v4.8M450.8,408.30v4.8M486.9,408.30v4.8" fill="none" stroke="#1a1a1a" stroke-width="0.85"/>
<text x="422.8" y="320.4" font-size="7.6" fill="#2c4c8c" stroke="#2c4c8c" stroke-width="0.0" textLength="70" lengthAdjust="spacingAndGlyphs"><tspan>MH</tspan><tspan font-size="5.32" dy="-3.00">low</tspan><tspan dy="3.00">/TMTV</tspan><tspan font-size="5.32" dy="-3.00">low</tspan><tspan dy="3.00"> (n=44)</tspan></text>
<text x="422.7" y="355.4" font-size="7.6" fill="#66a844" stroke="#66a844" stroke-width="0.0" textLength="56.7" lengthAdjust="spacingAndGlyphs"><tspan>MH</tspan><tspan font-size="5.32" dy="-3.00">low</tspan><tspan dy="3.00">/TMTV</tspan><tspan font-size="5.32" dy="-3.00">high</tspan><tspan dy="3.00"> or</tspan></text>
<text x="422.7" y="364.0" font-size="7.6" fill="#66a844" stroke="#66a844" stroke-width="0.0" textLength="71.5" lengthAdjust="spacingAndGlyphs"><tspan>MH</tspan><tspan font-size="5.32" dy="-3.00">high</tspan><tspan dy="3.00">/TMTV</tspan><tspan font-size="5.32" dy="-3.00">low</tspan><tspan dy="3.00"> (n=54)</tspan></text>
<text x="422.5" y="423.1" font-size="7.6" fill="#b01c44" stroke="#b01c44" stroke-width="0.0" textLength="74.4" lengthAdjust="spacingAndGlyphs"><tspan>MH</tspan><tspan font-size="5.32" dy="-3.00">high</tspan><tspan dy="3.00">/TMTV</tspan><tspan font-size="5.32" dy="-3.00">high</tspan><tspan dy="3.00"> (n=52)</tspan></text>
<text x="338.8" y="445.4" font-size="7.4" fill="#222" stroke="#222" stroke-width="0.2" textLength="30.6" lengthAdjust="spacingAndGlyphs"><tspan font-style="italic">P</tspan> <tspan font-size="9.2" dy="0.3">&lt;</tspan><tspan dy="-0.3"> 0.001</tspan></text>
<text x="266.3" y="498.8" font-size="7.2" text-anchor="start" fill="#222" font-weight="normal" font-style="normal" textLength="44.7" lengthAdjust="spacingAndGlyphs" stroke="#222" stroke-width="0.2">Number at risk</text>
<text x="266.3" y="508.5" font-size="6.9" fill="#222" stroke="#222" stroke-width="0.2" textLength="47.1" lengthAdjust="spacingAndGlyphs"><tspan>MH</tspan><tspan font-size="4.83" dy="-3.00">low</tspan><tspan dy="3.00">/TMTV</tspan><tspan font-size="4.83" dy="-3.00">low</tspan></text>
<text x="266.3" y="519.2" font-size="6.9" fill="#222" stroke="#222" stroke-width="0.2" textLength="56.8" lengthAdjust="spacingAndGlyphs"><tspan>MH</tspan><tspan font-size="4.83" dy="-3.00">low</tspan><tspan dy="3.00">/TMTV</tspan><tspan font-size="4.83" dy="-3.00">high</tspan><tspan dy="3.80"> or</tspan></text>
<text x="266.3" y="527.7" font-size="6.9" fill="#222" stroke="#222" stroke-width="0.2" textLength="47.5" lengthAdjust="spacingAndGlyphs"><tspan>MH</tspan><tspan font-size="4.83" dy="-3.00">high</tspan><tspan dy="3.00">/TMTV</tspan><tspan font-size="4.83" dy="-3.00">low</tspan></text>
<text x="266.3" y="538.3" font-size="6.9" fill="#222" stroke="#222" stroke-width="0.2" textLength="50" lengthAdjust="spacingAndGlyphs"><tspan>MH</tspan><tspan font-size="4.83" dy="-3.00">high</tspan><tspan dy="3.00">/TMTV</tspan><tspan font-size="4.83" dy="-3.00">high</tspan></text>
<text x="329.2" y="507.9" font-size="7.2" text-anchor="middle" fill="#222" font-weight="normal" font-style="normal" stroke="#222" stroke-width="0.12">44</text>
<text x="329.2" y="523.2" font-size="7.2" text-anchor="middle" fill="#222" font-weight="normal" font-style="normal" stroke="#222" stroke-width="0.12">54</text>
<text x="329.2" y="538.2" font-size="7.2" text-anchor="middle" fill="#222" font-weight="normal" font-style="normal" stroke="#222" stroke-width="0.12">52</text>
<text x="352.89" y="507.9" font-size="7.2" text-anchor="middle" fill="#222" font-weight="normal" font-style="normal" stroke="#222" stroke-width="0.12">39</text>
<text x="352.89" y="523.2" font-size="7.2" text-anchor="middle" fill="#222" font-weight="normal" font-style="normal" stroke="#222" stroke-width="0.12">37</text>
<text x="352.89" y="538.2" font-size="7.2" text-anchor="middle" fill="#222" font-weight="normal" font-style="normal" stroke="#222" stroke-width="0.12">26</text>
<text x="376.58" y="507.9" font-size="7.2" text-anchor="middle" fill="#222" font-weight="normal" font-style="normal" stroke="#222" stroke-width="0.12">36</text>
<text x="376.58" y="523.2" font-size="7.2" text-anchor="middle" fill="#222" font-weight="normal" font-style="normal" stroke="#222" stroke-width="0.12">30</text>
<text x="376.58" y="538.2" font-size="7.2" text-anchor="middle" fill="#222" font-weight="normal" font-style="normal" stroke="#222" stroke-width="0.12">18</text>
<text x="400.27" y="507.9" font-size="7.2" text-anchor="middle" fill="#222" font-weight="normal" font-style="normal" stroke="#222" stroke-width="0.12">25</text>
<text x="400.27" y="523.2" font-size="7.2" text-anchor="middle" fill="#222" font-weight="normal" font-style="normal" stroke="#222" stroke-width="0.12">18</text>
<text x="400.27" y="538.2" font-size="7.2" text-anchor="middle" fill="#222" font-weight="normal" font-style="normal" stroke="#222" stroke-width="0.12">8</text>
<text x="423.96" y="507.9" font-size="7.2" text-anchor="middle" fill="#222" font-weight="normal" font-style="normal" stroke="#222" stroke-width="0.12">16</text>
<text x="423.96" y="523.2" font-size="7.2" text-anchor="middle" fill="#222" font-weight="normal" font-style="normal" stroke="#222" stroke-width="0.12">11</text>
<text x="423.96" y="538.2" font-size="7.2" text-anchor="middle" fill="#222" font-weight="normal" font-style="normal" stroke="#222" stroke-width="0.12">4</text>
<text x="447.65" y="507.9" font-size="7.2" text-anchor="middle" fill="#222" font-weight="normal" font-style="normal" stroke="#222" stroke-width="0.12">8</text>
<text x="447.65" y="523.2" font-size="7.2" text-anchor="middle" fill="#222" font-weight="normal" font-style="normal" stroke="#222" stroke-width="0.12">4</text>
<text x="447.65" y="538.2" font-size="7.2" text-anchor="middle" fill="#222" font-weight="normal" font-style="normal" stroke="#222" stroke-width="0.12">3</text>
<text x="471.34000000000003" y="507.9" font-size="7.2" text-anchor="middle" fill="#222" font-weight="normal" font-style="normal" stroke="#222" stroke-width="0.12">1</text>
<text x="471.34000000000003" y="523.2" font-size="7.2" text-anchor="middle" fill="#222" font-weight="normal" font-style="normal" stroke="#222" stroke-width="0.12">2</text>
<text x="471.34000000000003" y="538.2" font-size="7.2" text-anchor="middle" fill="#222" font-weight="normal" font-style="normal" stroke="#222" stroke-width="0.12">1</text>
<text x="495.03" y="507.9" font-size="7.2" text-anchor="middle" fill="#222" font-weight="normal" font-style="normal" stroke="#222" stroke-width="0.12">1</text>
<text x="495.03" y="523.2" font-size="7.2" text-anchor="middle" fill="#222" font-weight="normal" font-style="normal" stroke="#222" stroke-width="0.12">2</text>
<text x="495.03" y="538.2" font-size="7.2" text-anchor="middle" fill="#222" font-weight="normal" font-style="normal" stroke="#222" stroke-width="0.12">0</text>
<rect x="0.5" y="0.5" width="519" height="546" fill="none" stroke="#000" stroke-width="1.2"/>
</svg>
</body></html>
